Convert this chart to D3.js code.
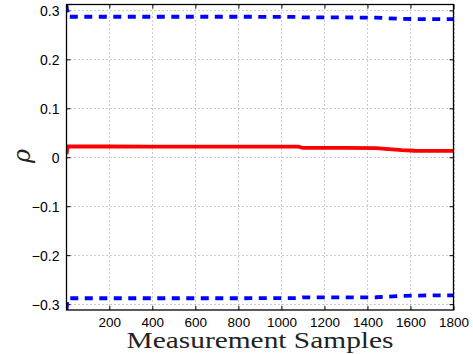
<!DOCTYPE html>
<html><head><meta charset="utf-8">
<script src="https://cdn.jsdelivr.net/npm/d3@7"></script>
<style>body{margin:0;background:#fff}svg{display:block}</style>
</head><body>
<script>
// Data
const samples = [1, 6, 200, 400, 600, 800, 1000, 1080, 1100, 1300, 1440, 1500, 1560, 1620, 1700, 1800];
const rho     = [0.006, 0.022, 0.022, 0.0218, 0.0218, 0.0218, 0.0218, 0.0216, 0.019, 0.019, 0.0188, 0.0165, 0.0145, 0.0133, 0.013, 0.013];
const upper   = [0.312, 0.287, 0.287, 0.287, 0.287, 0.287, 0.2868, 0.2865, 0.2855, 0.2855, 0.2852, 0.2838, 0.2828, 0.2822, 0.282, 0.282];
const lower   = [-0.312, -0.288, -0.288, -0.288, -0.288, -0.288, -0.2878, -0.2875, -0.2862, -0.2862, -0.286, -0.2845, -0.2832, -0.2825, -0.2822, -0.2822];
const xTicks  = [200, 400, 600, 800, 1000, 1200, 1400, 1600, 1800];
const yTicks  = [-0.3, -0.2, -0.1, 0, 0.1, 0.2, 0.3];
const xLabel  = "Measurement Samples";
const yLabel  = "ρ";

const W = 473, H = 354;
const L = 66.5, R = 453.5, T = 4.5, B = 310;
const svg = d3.select("body").append("svg").attr("width", W).attr("height", H);
svg.append("rect").attr("width", W).attr("height", H).attr("fill", "#fff");

const x = d3.scaleLinear().domain([1, 1800]).range([L, R]);
const y = d3.scaleLinear().domain([-0.312, 0.312]).range([B, T]);

svg.append("defs").append("clipPath").attr("id", "clip")
  .append("rect").attr("x", L).attr("y", T).attr("width", R - L).attr("height", B - T);

// grid
const grid = svg.append("g").attr("stroke", "#9a9a9a").attr("stroke-width", 1).attr("stroke-dasharray", "1,3");
grid.selectAll(".gx").data(xTicks).join("line")
  .attr("x1", d => Math.round(x(d)) + 0.5).attr("x2", d => Math.round(x(d)) + 0.5)
  .attr("y1", T).attr("y2", B);
grid.selectAll(".gy").data(yTicks).join("line")
  .attr("y1", d => Math.round(y(d)) + 0.5).attr("y2", d => Math.round(y(d)) + 0.5)
  .attr("x1", L).attr("x2", R);

// axes (ticks inside)
const fontTick = "'Liberation Sans', Arial, sans-serif";
const fmtY = d => d3.format(".1f")(d).replace("-", "\u2212").replace("0.0", "0");
const gxB = svg.append("g").attr("transform", `translate(0,${B})`)
  .call(d3.axisBottom(x).tickValues(xTicks).tickSizeInner(-4).tickSizeOuter(0).tickPadding(7.5).tickFormat(d3.format("d")));
const gxT = svg.append("g").attr("transform", `translate(0,${T})`)
  .call(d3.axisTop(x).tickValues(xTicks).tickSizeInner(-4).tickSizeOuter(0).tickFormat(""));
const gyL = svg.append("g").attr("transform", `translate(${L},0)`)
  .call(d3.axisLeft(y).tickValues(yTicks).tickSizeInner(-4).tickSizeOuter(0).tickPadding(7).tickFormat(fmtY));
const gyR = svg.append("g").attr("transform", `translate(${R},0)`)
  .call(d3.axisRight(y).tickValues(yTicks).tickSizeInner(-4).tickSizeOuter(0).tickFormat(""));
[gxB, gxT, gyL, gyR].forEach(g => {
  g.select(".domain").remove();
  g.selectAll("line").attr("stroke", "#000");
  g.selectAll("text").attr("font-family", fontTick).attr("font-size", 14).attr("fill", "#000");
});
gxB.selectAll("text").attr("font-size", 13.5);
gyL.selectAll("text").attr("dy", "0.36em");

// lines
const line = vals => d3.line().x((d, i) => x(samples[i])).y(d => y(d))(vals);
const plot = svg.append("g").attr("clip-path", "url(#clip)");
plot.append("path").attr("d", line(upper)).attr("fill", "none").attr("stroke", "#0000ff")
  .attr("stroke-width", 3.8).attr("stroke-dasharray", "8,6.5");
plot.append("path").attr("d", line(lower)).attr("fill", "none").attr("stroke", "#0000ff")
  .attr("stroke-width", 3.8).attr("stroke-dasharray", "8,6.5");
plot.append("path").attr("d", line(rho)).attr("fill", "none").attr("stroke", "#ff0000")
  .attr("stroke-width", 3.8);

// box
svg.append("rect").attr("x", L).attr("y", T).attr("width", R - L).attr("height", B - T)
  .attr("fill", "none").attr("stroke", "#000").attr("stroke-width", 1.3);

// labels
svg.append("text").attr("x", (L + R) / 2).attr("y", 348).attr("text-anchor", "middle")
  .attr("font-family", "'Liberation Serif', 'DejaVu Serif', serif").attr("font-size", 23.5)
  .attr("textLength", 267).attr("lengthAdjust", "spacingAndGlyphs")
  .attr("fill", "#222").text(xLabel);
svg.append("text").attr("transform", "translate(30,156) rotate(-90)").attr("text-anchor", "middle")
  .attr("font-family", "'DejaVu Serif', serif").attr("font-style", "italic").attr("font-size", 24)
  .attr("fill", "#222").text(yLabel);
</script>
</body></html>
